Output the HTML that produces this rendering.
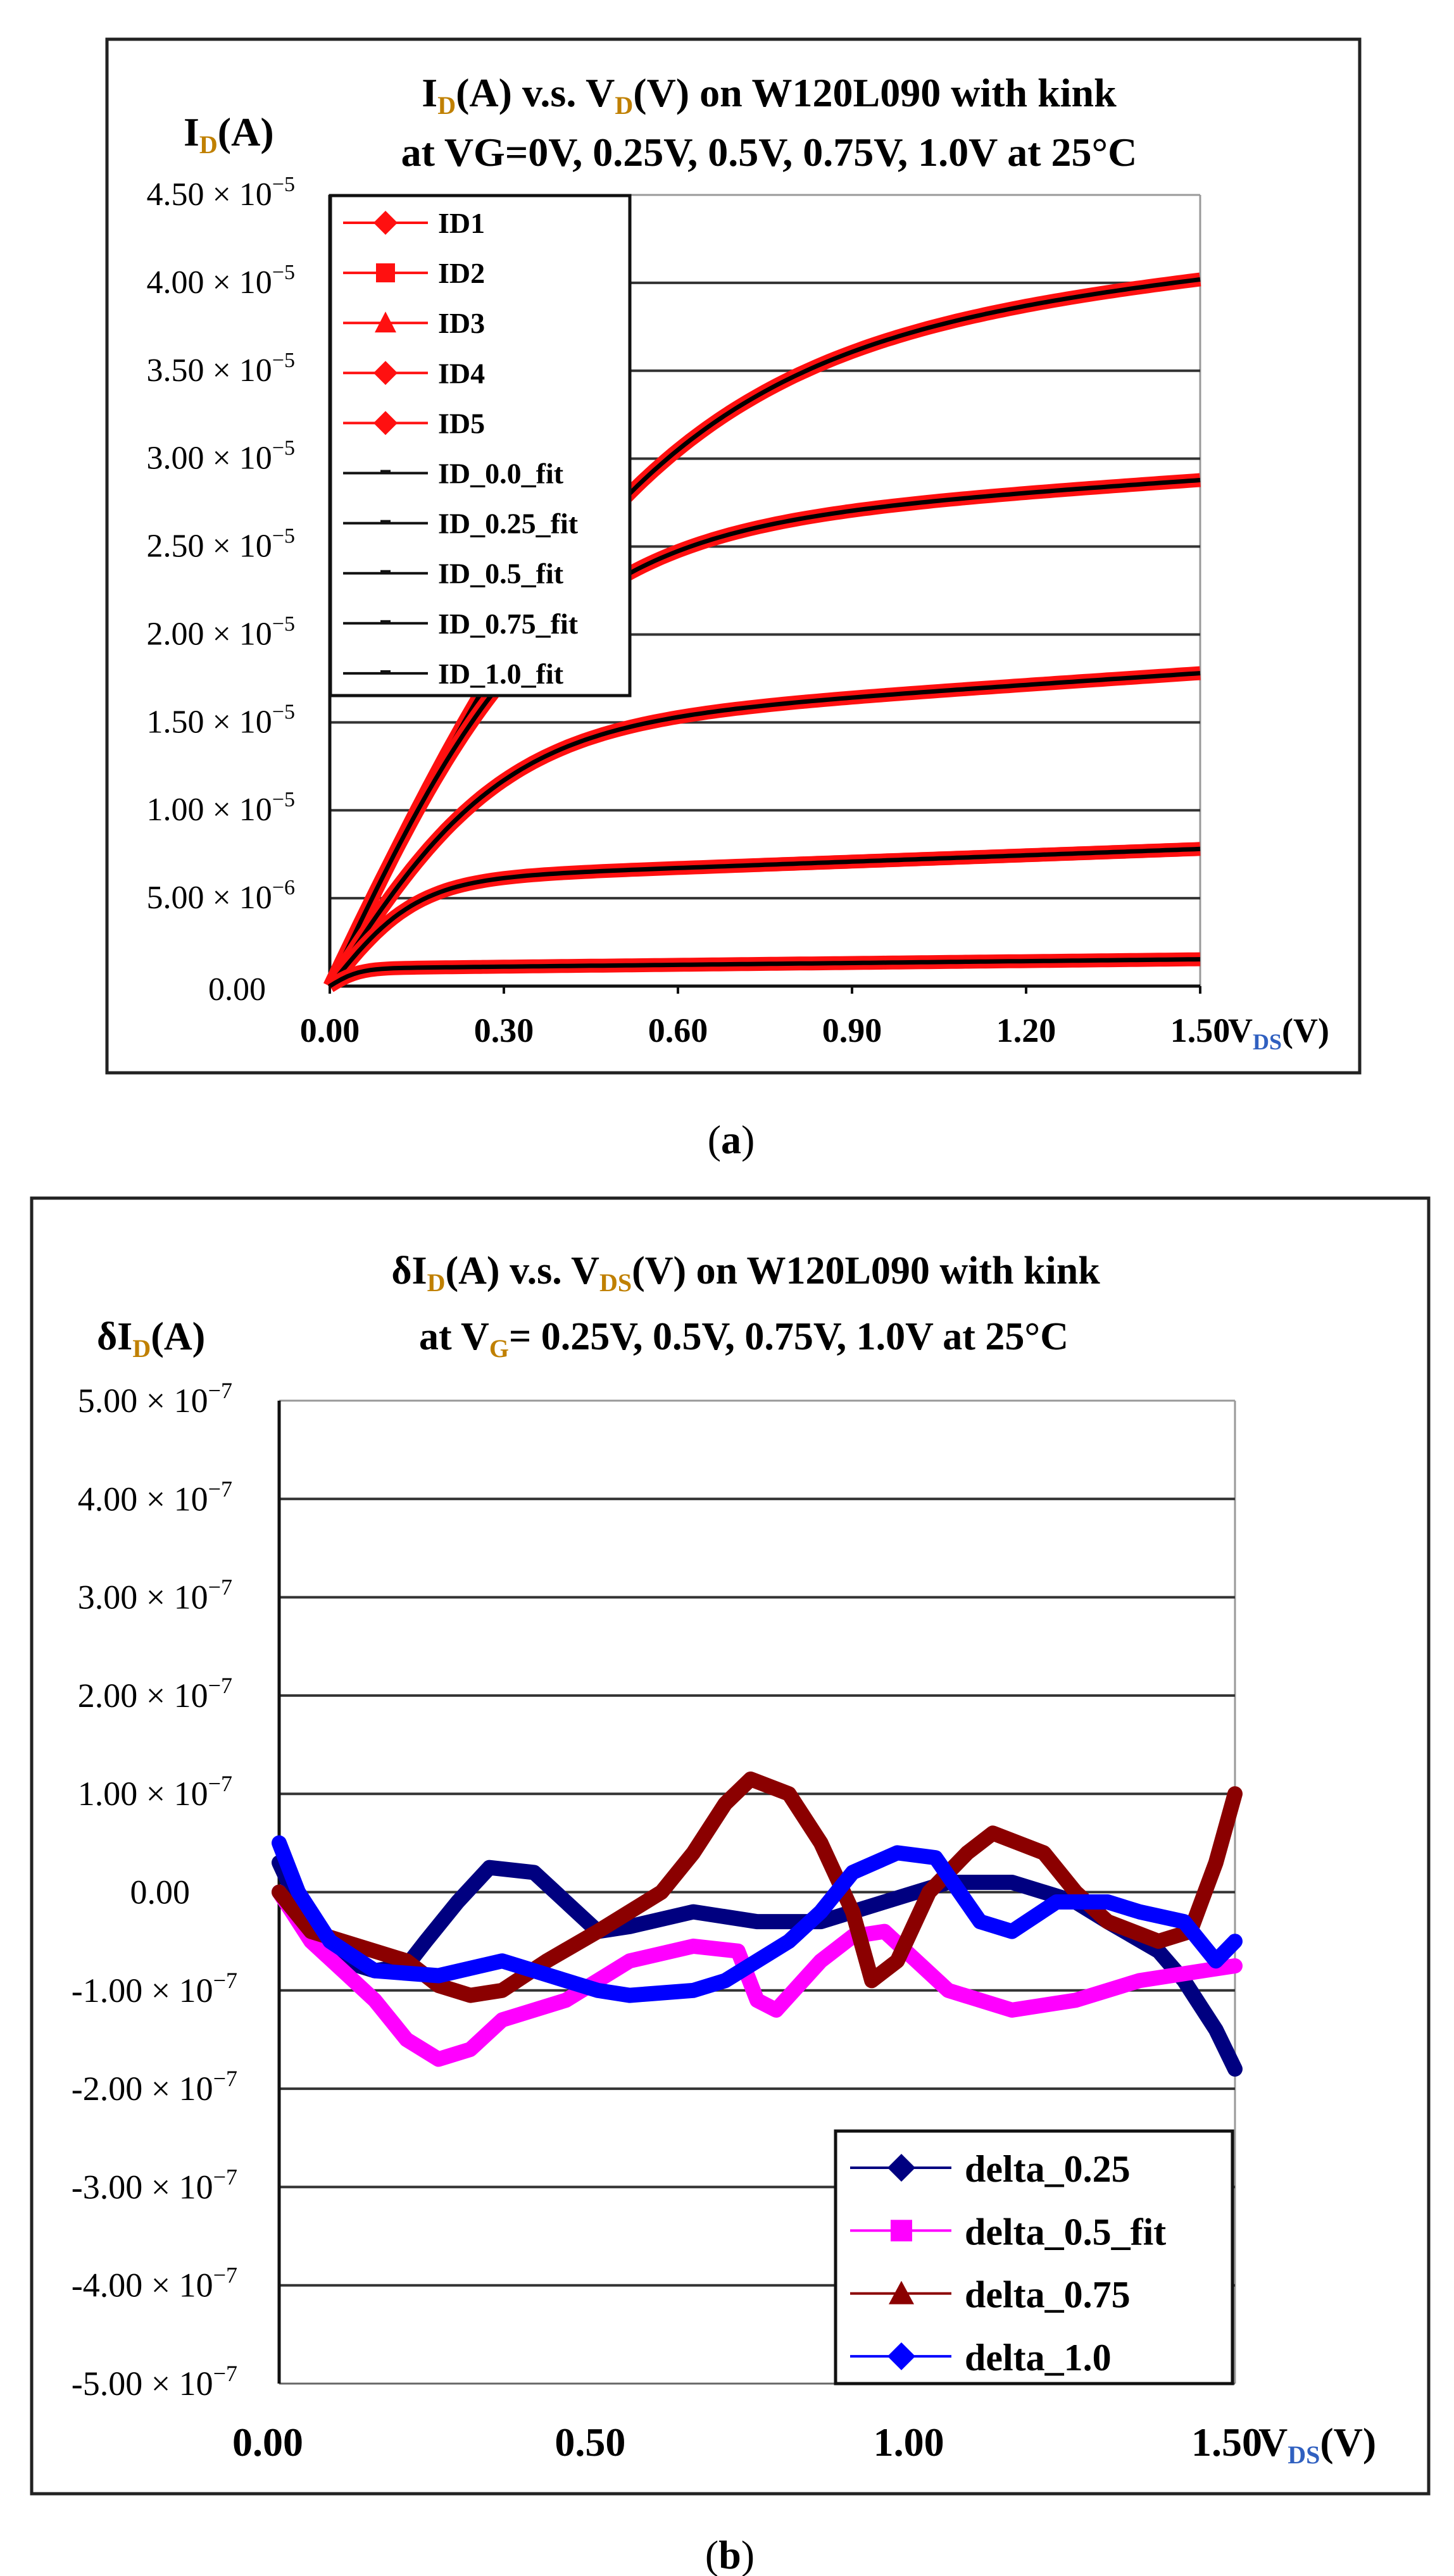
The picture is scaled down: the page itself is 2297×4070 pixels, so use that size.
<!DOCTYPE html>
<html><head><meta charset="utf-8">
<style>
html,body{margin:0;padding:0;background:#fff;}
svg{display:block;}
.tk{font-family:"Liberation Serif",serif;}
.b{font-family:"Liberation Serif",serif;font-weight:bold;}
</style></head><body>
<svg id="s" width="2297" height="4070" viewBox="0 0 2297 4070" xmlns="http://www.w3.org/2000/svg">
<rect width="2297" height="4070" fill="#fff"/>
<!-- Chart A frame -->
<rect x="169" y="62" width="1979" height="1633" fill="#fff" stroke="#222" stroke-width="5"/>
<text class="b" x="1215" y="168" font-size="64" text-anchor="middle">I<tspan font-size="40" dy="12" fill="#c08000">D</tspan><tspan dy="-12">(A) v.s. V</tspan><tspan font-size="40" dy="12" fill="#c08000">D</tspan><tspan dy="-12">(V) on W120L090 with kink</tspan></text>
<text class="b" x="1215" y="262" font-size="64" text-anchor="middle">at VG=0V, 0.25V, 0.5V, 0.75V, 1.0V at 25°C</text>
<text class="b" x="290" y="230" font-size="64">I<tspan font-size="40" dy="12" fill="#c08000">D</tspan><tspan dy="-12">(A)</tspan></text>
<g id="ga"></g>
<!-- Chart B frame -->
<text class="tk" x="1155" y="1822" font-size="64" text-anchor="middle">(<tspan font-weight="bold">a</tspan>)</text>
<rect x="50" y="1893" width="2207" height="2047" fill="#fff" stroke="#222" stroke-width="5"/>
<text class="b" x="1178" y="2028" font-size="62" text-anchor="middle">δI<tspan font-size="40" dy="12" fill="#c08000">D</tspan><tspan dy="-12">(A) v.s. V</tspan><tspan font-size="40" dy="12" fill="#c08000">DS</tspan><tspan dy="-12">(V) on W120L090 with kink</tspan></text>
<text class="b" x="1175" y="2132" font-size="62" text-anchor="middle">at V<tspan font-size="40" dy="12" fill="#c08000">G</tspan><tspan dy="-12">= 0.25V, 0.5V, 0.75V, 1.0V at 25°C</tspan></text>
<text class="b" x="153" y="2132" font-size="62">δI<tspan font-size="40" dy="12" fill="#c08000">D</tspan><tspan dy="-12">(A)</tspan></text>
<g id="gb"></g>
<text class="tk" x="1153" y="4058" font-size="64" text-anchor="middle">(<tspan font-weight="bold">b</tspan>)</text>
</svg>
<script>
var NS="http://www.w3.org/2000/svg";
function el(p,t,a,txt){var e=document.createElementNS(NS,t);for(var k in a)e.setAttribute(k,a[k]);if(txt!==undefined)e.textContent=txt;p.appendChild(e);return e;}
// ---- Chart A ----
var ga=document.getElementById('ga');
var L=521,R=1896,T=308,B=1558;
function xa(v){return L+(R-L)*v/1.5;}
function ya(i){return B-(B-T)*i/45;}
el(ga,'line',{x1:L,y1:T,x2:R,y2:T,stroke:'#999','stroke-width':3});
el(ga,'line',{x1:R,y1:T,x2:R,y2:B,stroke:'#999','stroke-width':3});
for(var k=1;k<9;k++){var y=ya(k*5);el(ga,'line',{x1:L,y1:y,x2:R,y2:y,stroke:'#333','stroke-width':4});}
el(ga,'line',{x1:L,y1:T,x2:L,y2:B,stroke:'#111','stroke-width':5});
el(ga,'line',{x1:L,y1:B,x2:R,y2:B,stroke:'#111','stroke-width':5});
var xl=['0.00','0.30','0.60','0.90','1.20','1.50'];
for(var k=0;k<6;k++){var x=xa(k*0.3);el(ga,'line',{x1:x,y1:B,x2:x,y2:B+12,stroke:'#111','stroke-width':4});
 el(ga,'text',{x:x,y:1646,'font-size':54,'text-anchor':'middle','class':'b'},xl[k]);}
var vt=el(ga,'text',{x:1940,y:1646,'font-size':54,'class':'b'},'V');
el(vt,'tspan',{'font-size':36,dy:12,fill:'#3060c0'},'DS');el(vt,'tspan',{dy:-12},'(V)');
var yl=['0.00','5.00 × 10','1.00 × 10','1.50 × 10','2.00 × 10','2.50 × 10','3.00 × 10','3.50 × 10','4.00 × 10','4.50 × 10'];
for(var k=0;k<10;k++){var y=ya(k*5)+16;
 if(k==0){el(ga,'text',{x:420,y:y+6,'font-size':52,'text-anchor':'end','class':'tk'},'0.00');continue;}
 var t=el(ga,'text',{x:466,y:y,'font-size':52,'text-anchor':'end','class':'tk'},yl[k]);
 el(t,'tspan',{'font-size':34,dy:-22},k==1?'−6':'−5');}
var params=[[3.6,0.55,0.3],[2.55,0.38,0.22],[1.45,0.3,0.22],[0.6,0.15,0.12],[0.1,0.05,0.035]];
function tanh(x){var e=Math.exp(2*x);return (e-1)/(e+1);}
params.forEach(function(p){var pts=[];for(var i=0;i<=150;i++){var v=i*0.01;var I=p[0]*tanh(v/p[1])+p[2]*v;pts.push(xa(v).toFixed(1)+','+ya(I*10).toFixed(1));}
 el(ga,'polyline',{points:pts.join(' '),fill:'none',stroke:'#ff1010','stroke-width':22,'stroke-linejoin':'round'});
 el(ga,'polyline',{points:pts.join(' '),fill:'none',stroke:'#000','stroke-width':7,'stroke-linejoin':'round'});});
// legend A
el(ga,'rect',{x:522,y:309,width:473,height:790,fill:'#fff',stroke:'#111','stroke-width':5});
var names=['ID1','ID2','ID3','ID4','ID5','ID_0.0_fit','ID_0.25_fit','ID_0.5_fit','ID_0.75_fit','ID_1.0_fit'];
for(var k=0;k<10;k++){var y=352+k*79.1;var c=k<5?'#ff1010':'#111';
 el(ga,'line',{x1:542,y1:y,x2:676,y2:y,stroke:c,'stroke-width':4});
 var mx=609;
 if(k<5){if(k==1)el(ga,'rect',{x:mx-15,y:y-15,width:30,height:30,fill:c});
  else if(k==2)el(ga,'polygon',{points:(mx-17)+','+(y+15)+' '+mx+','+(y-18)+' '+(mx+17)+','+(y+15),fill:c});
  else el(ga,'polygon',{points:(mx-19)+','+y+' '+mx+','+(y-19)+' '+(mx+19)+','+y+' '+mx+','+(y+19),fill:c});}
 else el(ga,'rect',{x:mx-8,y:y-5,width:16,height:6,fill:'#111'});
 el(ga,'text',{x:692,y:y+16,'font-size':46,'class':'b'},names[k]);}
// ---- Chart B ----
var gb=document.getElementById('gb');
var L2=441,R2=1951,T2=2213,B2=3766;
function xb(v){return L2+(R2-L2)*v/1.5;}
function yb(d){return (T2+B2)/2-(B2-T2)*d/10;}
el(gb,'line',{x1:L2,y1:T2,x2:R2,y2:T2,stroke:'#999','stroke-width':3});
el(gb,'line',{x1:R2,y1:T2,x2:R2,y2:B2,stroke:'#999','stroke-width':3});
for(var k=-4;k<5;k++){var y=yb(k);el(gb,'line',{x1:L2,y1:y,x2:R2,y2:y,stroke:'#333','stroke-width':4});}
el(gb,'line',{x1:L2,y1:B2,x2:R2,y2:B2,stroke:'#666','stroke-width':3});
el(gb,'line',{x1:L2,y1:T2,x2:L2,y2:B2,stroke:'#111','stroke-width':5});
var bl=['0.00','0.50','1.00','1.50'];
for(var k=0;k<4;k++){el(gb,'text',{x:xb(k*0.5)-(k==0?18:k==3?13:12),y:3880,'font-size':64,'text-anchor':'middle','class':'b'},bl[k]);}
var vt2=el(gb,'text',{x:1988,y:3880,'font-size':64,'class':'b'},'V');
el(vt2,'tspan',{'font-size':40,dy:12,fill:'#3060c0'},'DS');el(vt2,'tspan',{dy:-12},'(V)');
for(var k=-5;k<=5;k++){var y=yb(k)+18;
 if(k==0){el(gb,'text',{x:300,y:y,'font-size':54,'text-anchor':'end','class':'tk'},'0.00');continue;}
 var s=(k<0?'-':'')+Math.abs(k)+'.00 × 10';
 var t=el(gb,'text',{x:k<0?375:367,y:y,'font-size':54,'text-anchor':'end','class':'tk'},s);
 el(t,'tspan',{'font-size':36,dy:-22},'−7');}
var series=[
 ['#000080',[[0,0.3],[0.05,-0.4],[0.1,-0.7],[0.15,-0.8],[0.2,-0.75],[0.23,-0.5],[0.28,-0.1],[0.33,0.25],[0.4,0.2],[0.45,-0.1],[0.5,-0.4],[0.55,-0.35],[0.65,-0.2],[0.75,-0.3],[0.85,-0.3],[0.95,-0.1],[1.05,0.1],[1.15,0.1],[1.25,-0.1],[1.3,-0.3],[1.38,-0.6],[1.42,-0.9],[1.47,-1.4],[1.5,-1.8]]],
 ['#ff00ff',[[0,0],[0.05,-0.5],[0.1,-0.8],[0.15,-1.1],[0.2,-1.5],[0.25,-1.7],[0.3,-1.6],[0.35,-1.3],[0.45,-1.1],[0.55,-0.7],[0.65,-0.55],[0.72,-0.6],[0.75,-1.1],[0.78,-1.2],[0.85,-0.7],[0.9,-0.45],[0.95,-0.4],[1.0,-0.7],[1.05,-1.0],[1.15,-1.2],[1.25,-1.1],[1.35,-0.9],[1.45,-0.8],[1.5,-0.75]]],
 ['#8b0000',[[0,0],[0.05,-0.4],[0.1,-0.5],[0.2,-0.7],[0.25,-0.95],[0.3,-1.05],[0.35,-1.0],[0.42,-0.7],[0.5,-0.4],[0.6,0],[0.65,0.4],[0.7,0.9],[0.74,1.15],[0.8,1.0],[0.85,0.5],[0.9,-0.2],[0.93,-0.9],[0.97,-0.7],[1.02,0],[1.08,0.4],[1.12,0.6],[1.2,0.4],[1.25,0],[1.3,-0.3],[1.38,-0.5],[1.43,-0.4],[1.47,0.3],[1.5,1.0]]],
 ['#0000ff',[[0,0.5],[0.03,0],[0.08,-0.5],[0.15,-0.8],[0.25,-0.85],[0.35,-0.7],[0.45,-0.9],[0.5,-1.0],[0.55,-1.05],[0.65,-1.0],[0.7,-0.9],[0.8,-0.5],[0.85,-0.2],[0.9,0.2],[0.97,0.4],[1.03,0.35],[1.1,-0.3],[1.15,-0.4],[1.22,-0.1],[1.3,-0.1],[1.35,-0.2],[1.42,-0.3],[1.47,-0.7],[1.5,-0.5]]]];
series.forEach(function(s){var pts=s[1].map(function(p){return xb(p[0]).toFixed(1)+','+yb(p[1]).toFixed(1);}).join(' ');
 el(gb,'polyline',{points:pts,fill:'none',stroke:s[0],'stroke-width':24,'stroke-linejoin':'round','stroke-linecap':'round'});});
// legend B
el(gb,'rect',{x:1320,y:3367,width:627,height:399,fill:'#fff',stroke:'#111','stroke-width':5});
var ln=['delta_0.25','delta_0.5_fit','delta_0.75','delta_1.0'];
for(var k=0;k<4;k++){var y=3425+k*99.3;var c=series[k][0];var mx=1424;
 el(gb,'line',{x1:1343,y1:y,x2:1503,y2:y,stroke:c,'stroke-width':4});
 if(k==1)el(gb,'rect',{x:mx-17,y:y-17,width:34,height:34,fill:c});
 else if(k==2)el(gb,'polygon',{points:(mx-20)+','+(y+17)+' '+mx+','+(y-20)+' '+(mx+20)+','+(y+17),fill:c});
 else el(gb,'polygon',{points:(mx-22)+','+y+' '+mx+','+(y-22)+' '+(mx+22)+','+y+' '+mx+','+(y+22),fill:c});
 el(gb,'text',{x:1524,y:y+22,'font-size':60,'class':'b'},ln[k]);}
</script>
</body></html>
